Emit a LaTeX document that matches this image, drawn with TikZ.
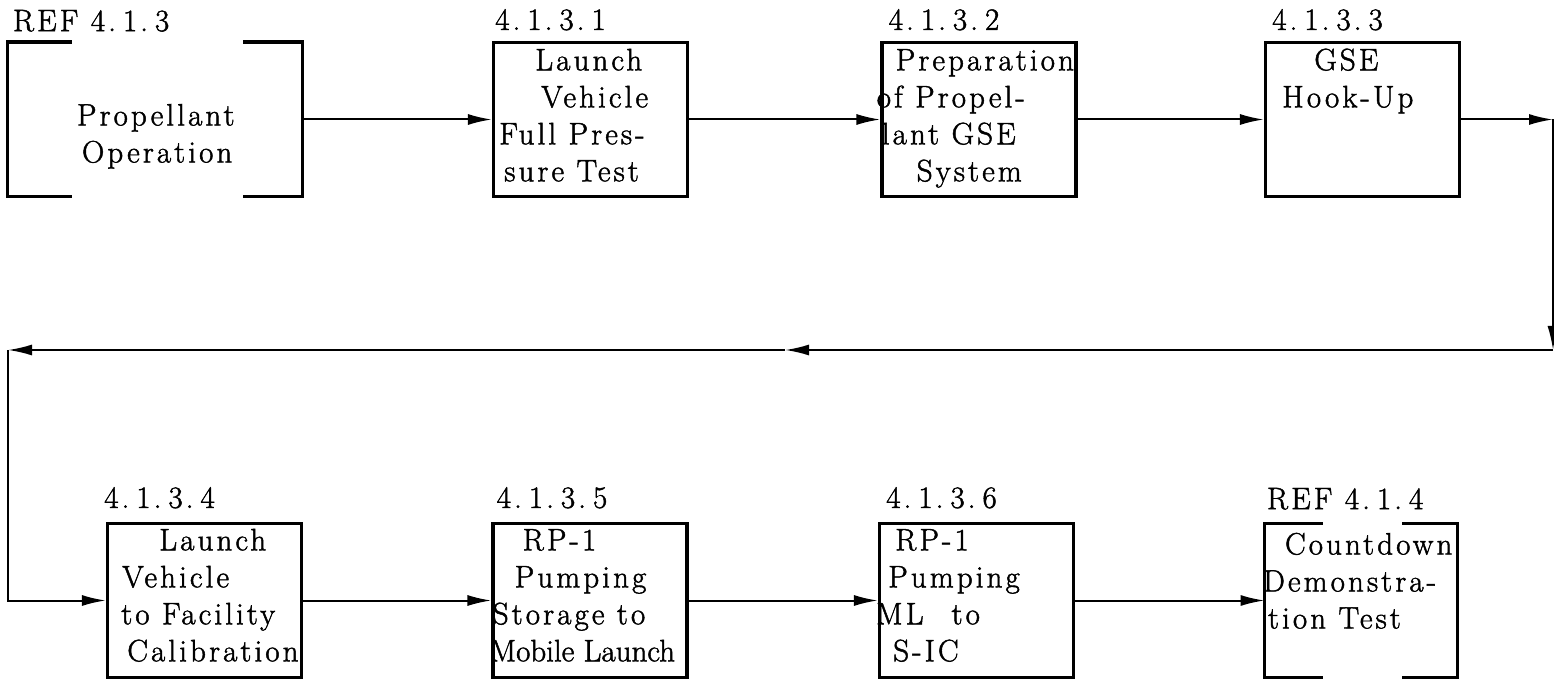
\documentclass[tikz,border=0pt]{standalone}
\usepackage{fontspec}
\setmainfont[LetterSpace=10,FakeBold=1.5]{Latin Modern Roman}
\usetikzlibrary{arrows.meta}
\begin{document}
\begin{tikzpicture}[x=0.5pt,y=-0.5pt,
    every node/.style={inner sep=0pt,font=\fontsize{15.5}{18.5}\selectfont},
    blk/.style={draw,line width=1.6pt,minimum width=97pt,minimum height=77pt},
    brk/.style={minimum height=77pt},
    txt/.style={anchor=north west,align=left},
    num/.style={anchor=base west},
    edge/.style={line width=1.6pt},
    link/.style={line width=1pt,-{Latex[length=12pt,width=5.5pt]}}]
    \useasboundingbox (0,0) rectangle (1554,679);
    \node[brk,minimum width=147pt] (ref413) at (155,119.5) {};
    \node[blk] (launch) at (590.5,119.5) {};
    \node[blk] (prep) at (979,119.5) {};
    \node[blk] (hook) at (1362.5,119.5) {};
    \node[blk] (cal) at (204.5,600.5) {};
    \node[blk] (stor) at (590,600.5) {};
    \node[blk] (pump) at (976.5,600.5) {};
    \node[brk,minimum width=96pt] (count) at (1361,600.5) {};
    \draw[edge] ([xshift=32pt]ref413.north west) -- (ref413.north west) -- (ref413.south west) -- ++(32pt,0);
    \draw[edge] ([xshift=-29.5pt]ref413.north east) -- (ref413.north east) -- (ref413.south east) -- ++(-29.5pt,0);
    \draw[edge] ([xshift=29pt]count.north west) -- (count.north west) -- (count.south west) -- ++(29pt,0);
    \draw[edge] ([xshift=-27.5pt]count.north east) -- (count.north east) -- (count.south east) -- ++(-27.5pt,0);
    \node[num] (ref413n) at ([xshift=2.5pt,yshift=5.5pt]ref413.north west) {REF 4.\hspace{3.5pt}1.\hspace{3.5pt}3};
    \node[num] (launchn) at ([xshift=1.5pt,yshift=5.5pt]launch.north west) {4.\hspace{3.5pt}1.\hspace{3.5pt}3.\hspace{3.5pt}1};
    \node[num] (prepn) at ([xshift=4pt,yshift=5.5pt]prep.north west) {4.\hspace{3.5pt}1.\hspace{3.5pt}3.\hspace{3.5pt}2};
    \node[num] (hookn) at ([xshift=4pt,yshift=5.5pt]hook.north west) {4.\hspace{3.5pt}1.\hspace{3.5pt}3.\hspace{3.5pt}3};
    \node[num] (caln) at ([xshift=-1pt,yshift=7pt]cal.north west) {4.\hspace{3.5pt}1.\hspace{3.5pt}3.\hspace{3.5pt}4};
    \node[num] (storn) at ([xshift=2.5pt,yshift=7pt]stor.north west) {4.\hspace{3.5pt}1.\hspace{3.5pt}3.\hspace{3.5pt}5};
    \node[num] (pumpn) at ([xshift=4pt,yshift=7pt]pump.north west) {4.\hspace{3.5pt}1.\hspace{3.5pt}3.\hspace{3.5pt}6};
    \node[num] (countn) at ([xshift=1pt,yshift=7pt]count.north west) {REF 4.\hspace{3.5pt}1.\hspace{3.5pt}4};
    \node[txt] (ref413t) at ([yshift=-30pt]ref413.north west) {\rule{0pt}{11.5pt}\hspace*{34.5pt}Propellant\\ \hspace*{37pt}Operation};
    \node[txt] (launcht) at ([yshift=-3pt]launch.north west) {\rule{0pt}{11.5pt}\hspace*{21.5pt}Launch\\ \hspace*{24.5pt}Vehicle\\ \hspace*{3.5pt}Full Pres-\\ \hspace*{6pt}sure Test};
    \node[txt] (prept) at ([yshift=-3pt]prep.north west) {\rule{0pt}{11.5pt}\hspace*{7.5pt}Preparation\\ \hspace*{-2pt}of Propel-\\ \hspace*{0.5pt}lant GSE\\ \hspace*{18pt}System};
    \node[txt] (hookt) at ([yshift=-3pt]hook.north west) {\rule{0pt}{11.5pt}\hspace*{25pt}GSE\\ \hspace*{9pt}Hook-Up};
    \node[txt] (calt) at ([yshift=-2.5pt]cal.north west) {\rule{0pt}{11.5pt}\hspace*{26.5pt}Launch\\ \hspace*{8pt}Vehicle\\ \hspace*{7.5pt}to Facility\\ \hspace*{10.5pt}Calibration};
    \node[txt] (stort) at ([yshift=-2.5pt]stor.north west) {\rule{0pt}{11.5pt}\hspace*{15.5pt}RP-1\\ \hspace*{11.5pt}Pumping\\ \hspace*{0.5pt}Storage to\\ \hspace*{-1pt}\addfontfeature{LetterSpace=0}Mobile Launch};
    \node[txt] (pumpt) at ([yshift=-2.5pt]pump.north west) {\rule{0pt}{11.5pt}\hspace*{8.5pt}RP-1\\ \hspace*{5pt}Pumping\\ \hspace*{-1pt}ML\hspace{14pt}to\\ \hspace*{7.5pt}S-IC};
    \node[txt] (countt) at ([yshift=-4pt]count.north west) {\rule{0pt}{11.5pt}\hspace*{10pt}Countdown\\ \hspace*{-1pt}Demonstra-\\ \hspace*{1.5pt}tion Test};
    \coordinate (c1) at (1553,119.5);
    \coordinate (c2) at (1553,350);
    \coordinate (c3) at (785,350);
    \coordinate (c4) at (8,350);
    \draw[link] (ref413.east) -- (launch);
    \draw[link] (launch) -- (prep);
    \draw[link] (prep) -- (hook);
    \draw[link] (hook) -- (c1);
    \draw[link] (c1) -- (c2);
    \draw[link] (c2) -- (c3);
    \draw[link] (c3) -- (c4);
    \draw[link] (c4) |- (cal);
    \draw[link] (cal) -- (stor);
    \draw[link] (stor) -- (pump);
    \draw[link] (pump) -- (count);
\end{tikzpicture}
\end{document}
